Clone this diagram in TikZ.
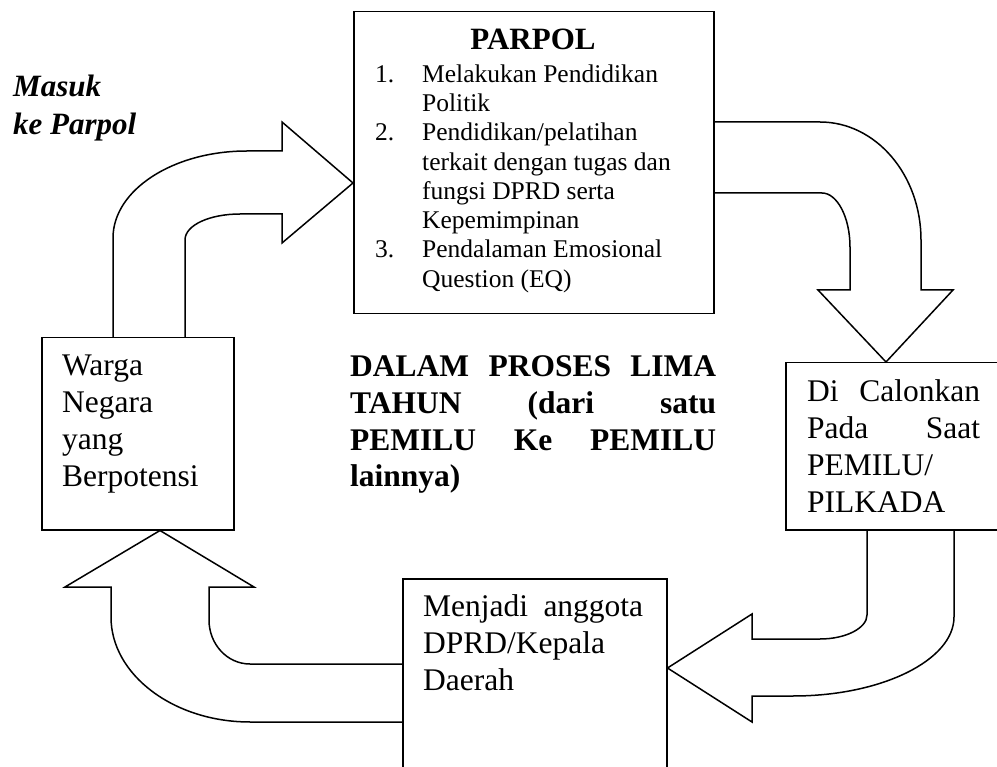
\documentclass[tikz,border=0pt]{standalone}
\usepackage{fontspec}
\setmainfont{Liberation Serif}
\usetikzlibrary{calc}
\tikzset{
  boxnode/.style={draw, line width=1.5pt, rectangle, inner sep=0pt, anchor=north west},
  blockarrow/.style={draw, line width=1.5pt, line join=miter},
  boxtext/.style={anchor=north west, inner sep=0pt, align=left, font=\fontsize{31.5}{37}\selectfont},
  listtext/.style={anchor=north west, inner sep=0pt, align=left, font=\fontsize{25.5}{29.3}\selectfont},
}
\begin{document}
\begin{tikzpicture}[x=1pt,y=-1pt]
\useasboundingbox (0,0) rectangle (997,767);
\clip (0,0) rectangle (997,767);

% boxes
\node[boxnode, minimum width=360pt, minimum height=302pt] (parpol) at (353,11) {};
\node[boxnode, minimum width=192pt, minimum height=192pt] (warga) at (41,337) {};
\node[boxnode, minimum width=230pt, minimum height=167pt] (calon) at (785,362) {};
\node[boxnode, minimum width=264pt, minimum height=240pt] (menjadi) at (402,578) {};

% texts
\node[anchor=north west, inner sep=0pt, align=left, font=\fontsize{31}{38}\selectfont\bfseries\itshape] (masuk) at (13,75) {Masuk\\ke Parpol};
\node[anchor=base, inner sep=0pt, font=\fontsize{31}{37}\selectfont\bfseries] (title) at (533,50) {PARPOL};
\node[listtext] (list) at (375,64.3) {%
\makebox[47pt][l]{1.}Melakukan Pendidikan\\
\hspace*{47pt}Politik\\
\makebox[47pt][l]{2.}Pendidikan/pelatihan\\
\hspace*{47pt}terkait dengan tugas dan\\
\hspace*{47pt}fungsi DPRD serta\\
\hspace*{47pt}Kepemimpinan\\
\makebox[47pt][l]{3.}Pendalaman Emosional\\
\hspace*{47pt}Question (EQ)};
\node[boxtext] (wargatext) at (62,355) {Warga\\Negara\\yang\\Berpotensi};
\node[boxtext, font=\fontsize{31.5}{36.7}\selectfont\bfseries] (middle) at (350,355.7) {%
\makebox[366pt][s]{DALAM PROSES LIMA}\\
\makebox[366pt][s]{TAHUN (dari satu}\\
\makebox[366pt][s]{PEMILU Ke PEMILU}\\
lainnya)};
\node[boxtext] (calontext) at (807,379.5) {%
\makebox[173pt][s]{Di Calonkan}\\
\makebox[173pt][s]{Pada Saat}\\
PEMILU/\\PILKADA};
\node[boxtext] (menjaditext) at (423,594.5) {%
\makebox[220pt][s]{Menjadi anggota}\\
DPRD/Kepala\\Daerah};

% block arrow: Warga -> PARPOL
\draw[blockarrow] ($(warga.north west)+(72,0)$) -- (113,238)
  .. controls (113,190) and (173,151) .. (247,151) -- (282,151) -- (282,122)
  -- ($(parpol.north west)+(0,172)$) -- (282,243) -- (282,214) -- (240,214)
  .. controls (210,214) and (185,225) .. (185,240) -- ($(warga.north west)+(144,0)$);

% block arrow: PARPOL -> Di Calonkan
\draw[blockarrow] ($(parpol.north east)+(0,111)$) -- (820,122)
  .. controls (876,122) and (921,175) .. (921,240) -- (921,290) -- (953,290)
  -- ($(calon.north west)+(101,0)$) -- (818,290) -- (850,290) -- (850,247)
  .. controls (850,217) and (837,193) .. (822,193) -- ($(parpol.north east)+(0,182)$);

% block arrow: Di Calonkan -> Menjadi
\draw[blockarrow] ($(calon.south west)+(169,0)$) -- (954,617)
  .. controls (954,660) and (882,696) .. (793,696) -- (752,696) -- (752,722)
  -- ($(menjadi.north east)+(0,90)$) -- (752,614) -- (752,639) -- (820,639)
  .. controls (846,639) and (867,628) .. (867,615) -- ($(calon.south west)+(82,0)$);

% block arrow: Menjadi -> Warga
\draw[blockarrow] ($(menjadi.north west)+(0,86)$) -- (250,664)
  .. controls (227,664) and (209,644) .. (209,620) -- (209,587) -- (254,587)
  -- ($(warga.south west)+(119,0)$) -- (65,587) -- (111,587) -- (111,617)
  .. controls (111,675) and (174,722) .. (250,722) -- ($(menjadi.north west)+(0,144)$);
\end{tikzpicture}
\end{document}
